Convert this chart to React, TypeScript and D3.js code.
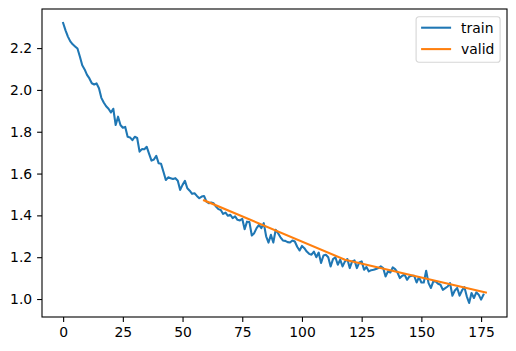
import { useRef, useEffect } from "react";
import * as d3 from "d3";

// training loss per batch
const trainLoss = [
  2.320, 2.285, 2.255, 2.232, 2.218, 2.208, 2.198, 2.160, 2.118, 2.098,
  2.072, 2.055, 2.032, 2.026, 2.031, 2.008, 1.962, 1.940, 1.922, 1.910,
  1.892, 1.910, 1.832, 1.872, 1.832, 1.819, 1.823, 1.776, 1.773, 1.760,
  1.776, 1.770, 1.705, 1.717, 1.716, 1.728, 1.694, 1.662, 1.667, 1.685,
  1.649, 1.647, 1.609, 1.569, 1.582, 1.578, 1.574, 1.578, 1.566, 1.522,
  1.546, 1.565, 1.530, 1.518, 1.503, 1.506, 1.493, 1.482, 1.490, 1.493,
  1.466, 1.458, 1.461, 1.458, 1.442, 1.430, 1.426, 1.407, 1.413, 1.398,
  1.403, 1.387, 1.395, 1.379, 1.376, 1.384, 1.334, 1.370, 1.368, 1.304,
  1.315, 1.339, 1.355, 1.339, 1.363, 1.300, 1.270, 1.307, 1.270, 1.331,
  1.315, 1.295, 1.280, 1.278, 1.272, 1.270, 1.280, 1.275, 1.250, 1.232,
  1.254, 1.243, 1.227, 1.216, 1.212, 1.227, 1.200, 1.222, 1.172, 1.208,
  1.212, 1.200, 1.156, 1.191, 1.200, 1.164, 1.188, 1.156, 1.180, 1.191,
  1.148, 1.180, 1.185, 1.148, 1.175, 1.180, 1.140, 1.153, 1.132, 1.138,
  1.140, 1.144, 1.148, 1.156, 1.148, 1.108, 1.132, 1.127, 1.151, 1.143,
  1.127, 1.100, 1.111, 1.116, 1.092, 1.108, 1.111, 1.111, 1.079, 1.105,
  1.079, 1.079, 1.135, 1.076, 1.053, 1.084, 1.084, 1.073, 1.068, 1.044,
  1.052, 1.060, 1.076, 1.016, 1.041, 1.053, 1.016, 1.041, 1.057, 1.013,
  0.981, 1.029, 1.005, 1.032, 1.021, 0.997, 1.021,
];

// validation loss at the end of each epoch
const validSteps = [59, 118, 177];
const validLoss = [1.472, 1.188, 1.031];

const xTicks = [0, 25, 50, 75, 100, 125, 150, 175];
const yTicks = [1.0, 1.2, 1.4, 1.6, 1.8, 2.0, 2.2];

const seriesNames = ["train", "valid"];
const seriesColors = ["#1f77b4", "#ff7f0e"];

export default function App() {
  const svgRef = useRef<SVGSVGElement>(null);

  useEffect(() => {
    if (!svgRef.current) return;

    const width = 516;
    const height = 351;
    const margin = { top: 9, right: 9, bottom: 34, left: 42 };
    const font = "DejaVu Sans, sans-serif";
    const fontSize = 13.9;

    const svg = d3.select(svgRef.current);
    svg.selectAll("*").remove();
    svg.attr("width", width).attr("height", height);

    const train = trainLoss.map((v, i) => ({ x: i, y: v }));
    const valid = validSteps.map((s, i) => ({ x: s, y: validLoss[i] }));
    const all = [...train, ...valid];

    // matplotlib-style 5% padding around the data
    const [x0, x1] = d3.extent(all, (d) => d.x) as [number, number];
    const [y0, y1] = d3.extent(all, (d) => d.y) as [number, number];
    const px = (x1 - x0) * 0.05;
    const py = (y1 - y0) * 0.05;

    const xScale = d3
      .scaleLinear()
      .domain([x0 - px, x1 + px])
      .range([margin.left, width - margin.right]);
    const yScale = d3
      .scaleLinear()
      .domain([y0 - py, y1 + py])
      .range([height - margin.bottom, margin.top]);

    const line = d3
      .line<{ x: number; y: number }>()
      .x((d) => xScale(d.x))
      .y((d) => yScale(d.y));

    const plot = svg.append("g");
    [train, valid].forEach((series, i) => {
      plot
        .append("path")
        .datum(series)
        .attr("fill", "none")
        .attr("stroke", seriesColors[i])
        .attr("stroke-width", 2.08)
        .attr("stroke-linejoin", "round")
        .attr("stroke-linecap", "square")
        .attr("d", line);
    });

    // X axis
    const xAxis = svg
      .append("g")
      .attr("transform", `translate(0,${height - margin.bottom})`)
      .call(d3.axisBottom(xScale).tickValues(xTicks).tickSize(4.9).tickPadding(4.9).tickFormat(d3.format("d")));
    xAxis.select(".domain").remove();
    xAxis.selectAll("line").attr("stroke", "#000").attr("stroke-width", 1.1);
    xAxis.selectAll("text").style("font-family", font).style("font-size", `${fontSize}px`).attr("fill", "#000");

    // Y axis
    const yAxis = svg
      .append("g")
      .attr("transform", `translate(${margin.left},0)`)
      .call(d3.axisLeft(yScale).tickValues(yTicks).tickSize(4.9).tickPadding(4.9).tickFormat(d3.format(".1f")));
    yAxis.select(".domain").remove();
    yAxis.selectAll("line").attr("stroke", "#000").attr("stroke-width", 1.1);
    yAxis.selectAll("text").style("font-family", font).style("font-size", `${fontSize}px`).attr("fill", "#000");

    // frame
    svg
      .append("rect")
      .attr("x", margin.left)
      .attr("y", margin.top)
      .attr("width", width - margin.left - margin.right)
      .attr("height", height - margin.top - margin.bottom)
      .attr("fill", "none")
      .attr("stroke", "#000")
      .attr("stroke-width", 1.1);

    // legend, upper right
    const legW = 84;
    const legH = 45.6;
    const legX = width - margin.right - 6.9 - legW;
    const legY = margin.top + 7.7;
    const legend = svg.append("g").attr("transform", `translate(${legX},${legY})`);
    legend
      .append("rect")
      .attr("width", legW)
      .attr("height", legH)
      .attr("rx", 2.8)
      .attr("fill", "#fff")
      .attr("fill-opacity", 0.8)
      .attr("stroke", "#d6d6d6")
      .attr("stroke-width", 1.1);
    seriesNames.forEach((name, i) => {
      const cy = 11 + i * 21.4;
      legend
        .append("line")
        .attr("x1", 5)
        .attr("x2", 35)
        .attr("y1", cy)
        .attr("y2", cy)
        .attr("stroke", seriesColors[i])
        .attr("stroke-width", 2.08);
      legend
        .append("text")
        .attr("x", 45)
        .attr("y", cy)
        .attr("dy", "0.35em")
        .style("font-family", font)
        .style("font-size", `${fontSize}px`)
        .attr("fill", "#000")
        .text(name);
    });
  }, []);

  return <svg ref={svgRef} style={{ position: "absolute", left: 0, top: 0 }} />;
}
